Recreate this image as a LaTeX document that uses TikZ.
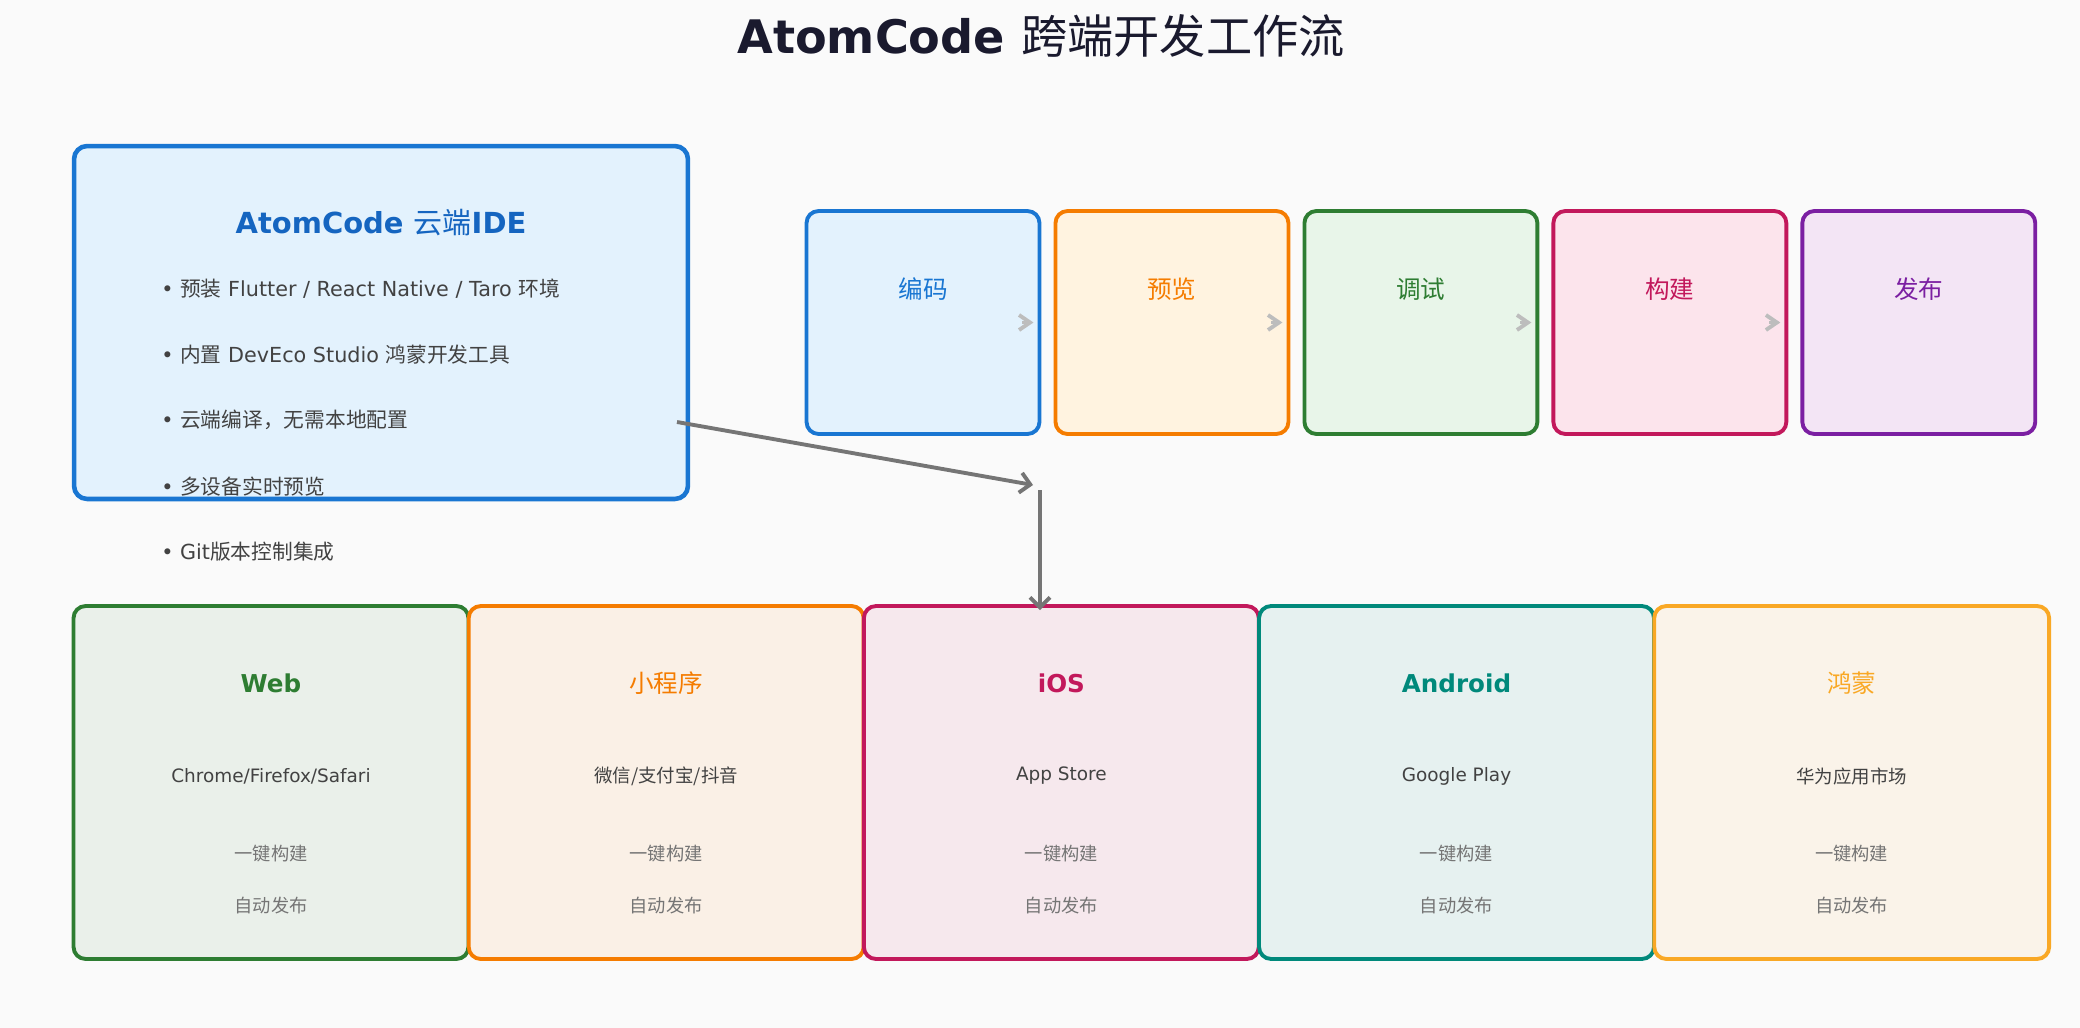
\documentclass[tikz,border=0pt]{standalone}
\usepackage{fontspec}
\setmainfont{DejaVu Sans}
\newfontfamily\cjk{Noto Sans CJK SC}
\usetikzlibrary{calc, chains, arrows.meta, positioning}

\newcommand{\zh}[1]{{\cjk\mdseries #1}}

\definecolor{bg}{HTML}{FAFAFA}
\definecolor{titleink}{HTML}{1A1A2E}
\definecolor{textdark}{HTML}{424242}
\definecolor{textgray}{HTML}{757575}
\definecolor{arrowgray}{HTML}{757575}
\definecolor{chevron}{HTML}{BDBDBD}
\definecolor{ideline}{HTML}{1976D2}
\definecolor{idefill}{HTML}{E3F2FD}
\definecolor{ideink}{HTML}{1565C0}
% workflow steps
\definecolor{codeline}{HTML}{1976D2}
\definecolor{codefill}{HTML}{E3F2FD}
\definecolor{previewline}{HTML}{F57C00}
\definecolor{previewfill}{HTML}{FFF3E0}
\definecolor{debugline}{HTML}{2E7D32}
\definecolor{debugfill}{HTML}{E8F5E9}
\definecolor{buildline}{HTML}{C2185B}
\definecolor{buildfill}{HTML}{FCE4EC}
\definecolor{releaseline}{HTML}{7B1FA2}
\definecolor{releasefill}{HTML}{F3E5F5}
% target platforms
\definecolor{webline}{HTML}{2E7D32}
\definecolor{miniline}{HTML}{F57C00}
\definecolor{iosline}{HTML}{C2185B}
\definecolor{androidline}{HTML}{00897B}
\definecolor{harmonyline}{HTML}{F9A825}
\colorlet{webfill}{webline!8!bg}
\colorlet{minifill}{miniline!8!bg}
\colorlet{iosfill}{iosline!8!bg}
\colorlet{androidfill}{androidline!8!bg}
\colorlet{harmonyfill}{harmonyline!8!bg}

\begin{document}
\begin{tikzpicture}[
   x=0.02cm, y=-0.02cm,
   stepbox/.style = {draw, rounded corners=0.24cm, line width=2.2pt, outer sep=0pt,
      minimum width=4.66cm, minimum height=4.46cm, on chain},
   steplabel/.style = {font=\cjk\fontsize{14}{16}\selectfont},
   platbox/.style = {draw, rounded corners=0.24cm, line width=2.2pt, outer sep=0pt,
      minimum width=7.9cm, minimum height=7.06cm, on chain},
   plattitle/.style = {font=\fontsize{14}{16}\selectfont\bfseries},
   platsub/.style = {text=textdark, font=\fontsize{10.5}{12}\selectfont},
   platnote/.style = {text=textgray, font=\cjk\fontsize{10.4}{12}\selectfont},
   bullet/.style = {anchor=west, inner sep=0pt, text=textdark, font=\fontsize{11.8}{14}\selectfont},
   flow/.style = {draw=arrowgray, line width=2.2pt, -{Straight Barb[length=0.2cm, width=0.4cm]}},
   nextarrow/.style = {draw=chevron, line width=2.2pt, -{Straight Barb[length=0.22cm, width=0.3cm]}}]

   \fill[bg] (0,0) rectangle (2080,1028);
   \useasboundingbox (0,0) rectangle (2080,1028);

   \node[font=\fontsize{26.3}{31}\selectfont\bfseries, text=titleink] (title) at (1041,36)
      {AtomCode \zh{跨端开发工作流}};

   % cloud IDE
   \node[draw=ideline, fill=idefill, line width=2.6pt, rounded corners=0.26cm, outer sep=0pt,
      minimum width=12.28cm, minimum height=7.06cm] (ide) at (381,322.5) {};
   \node[text=ideink, font=\fontsize{16.5}{19}\selectfont\bfseries] (idetitle)
      at ([yshift=1.99cm]ide.center) {AtomCode \zh{云端}IDE};
   \node[bullet] (b1) at (161,289) {• \zh{预装} Flutter / React Native / Taro \zh{环境}};
   \node[bullet] (b2) at (161,355) {• \zh{内置} DevEco Studio \zh{鸿蒙开发工具}};
   \node[bullet] (b3) at (161,420) {• \zh{云端编译，无需本地配置}};
   \node[bullet] (b4) at (161,487) {• \zh{多设备实时预览}};
   \node[bullet] (b5) at (161,552) {• Git\zh{版本控制集成}};

   % workflow
   \begin{scope}[start chain=steps going right, node distance=0.32cm]
      \node[stepbox, draw=codeline, fill=codefill] (code) at (923,322.5) {};
      \node[stepbox, draw=previewline, fill=previewfill] (preview) {};
      \node[stepbox, draw=debugline, fill=debugfill] (debug) {};
      \node[stepbox, draw=buildline, fill=buildfill] (build) {};
      \node[stepbox, draw=releaseline, fill=releasefill] (release) {};
   \end{scope}
   \node[steplabel, text=codeline] (codetext) at ([yshift=0.67cm]code.center) {编码};
   \node[steplabel, text=previewline] (previewtext) at ([yshift=0.67cm]preview.center) {预览};
   \node[steplabel, text=debugline] (debugtext) at ([yshift=0.67cm]debug.center) {调试};
   \node[steplabel, text=buildline] (buildtext) at ([yshift=0.67cm]build.center) {构建};
   \node[steplabel, text=releaseline] (releasetext) at ([yshift=0.67cm]release.center) {发布};

   \draw[nextarrow] ([xshift=-0.34cm]code.east) -- ([xshift=-0.12cm]code.east);
   \draw[nextarrow] ([xshift=-0.34cm]preview.east) -- ([xshift=-0.12cm]preview.east);
   \draw[nextarrow] ([xshift=-0.34cm]debug.east) -- ([xshift=-0.12cm]debug.east);
   \draw[nextarrow] ([xshift=-0.34cm]build.east) -- ([xshift=-0.12cm]build.east);

   % targets
   \begin{scope}[start chain=targets going right, node distance=0.005cm]
      \node[platbox, draw=webline, fill=webfill] (web) at (271,782.5) {};
      \node[platbox, draw=miniline, fill=minifill] (mini) {};
      \node[platbox, draw=iosline, fill=iosfill] (ios) {};
      \node[platbox, draw=androidline, fill=androidfill] (android) {};
      \node[platbox, draw=harmonyline, fill=harmonyfill] (harmony) {};
   \end{scope}
   \node[plattitle, text=webline] (webname) at ([yshift=1.99cm]web.center) {Web};
   \node[plattitle, text=miniline] (mininame) at ([yshift=1.99cm]mini.center) {\zh{小程序}};
   \node[plattitle, text=iosline] (iosname) at ([yshift=1.99cm]ios.center) {iOS};
   \node[plattitle, text=androidline] (androidname) at ([yshift=1.99cm]android.center) {Android};
   \node[plattitle, text=harmonyline] (harmonyname) at ([yshift=1.99cm]harmony.center) {\zh{鸿蒙}};

   \node[platsub] (webstore) at ([yshift=0.13cm]web.center) {Chrome/Firefox/Safari};
   \node[platsub] (ministore) at ([yshift=0.13cm]mini.center) {\zh{微信/支付宝/抖音}};
   \node[platsub] (iosstore) at ([yshift=0.13cm]ios.center) {App Store};
   \node[platsub] (androidstore) at ([yshift=0.13cm]android.center) {Google Play};
   \node[platsub] (harmonystore) at ([yshift=0.13cm]harmony.center) {\zh{华为应用市场}};

   \foreach \p in {web, mini, ios, android, harmony} {
      \node[platnote] (\p build) at ([yshift=-1.43cm]\p.center) {一键构建};
      \node[platnote] (\p ship) at ([yshift=-2.47cm]\p.center) {自动发布};
   }

   % IDE to targets
   \coordinate (idefoot) at (677,422);
   \coordinate (hubin) at (1033,485);
   \coordinate (hub) at (1040,490);
   \draw[flow] (idefoot) -- (hubin);
   \draw[flow, shorten >=-0.08cm] (hub) -- (hub |- ios.north);
\end{tikzpicture}
\end{document}
